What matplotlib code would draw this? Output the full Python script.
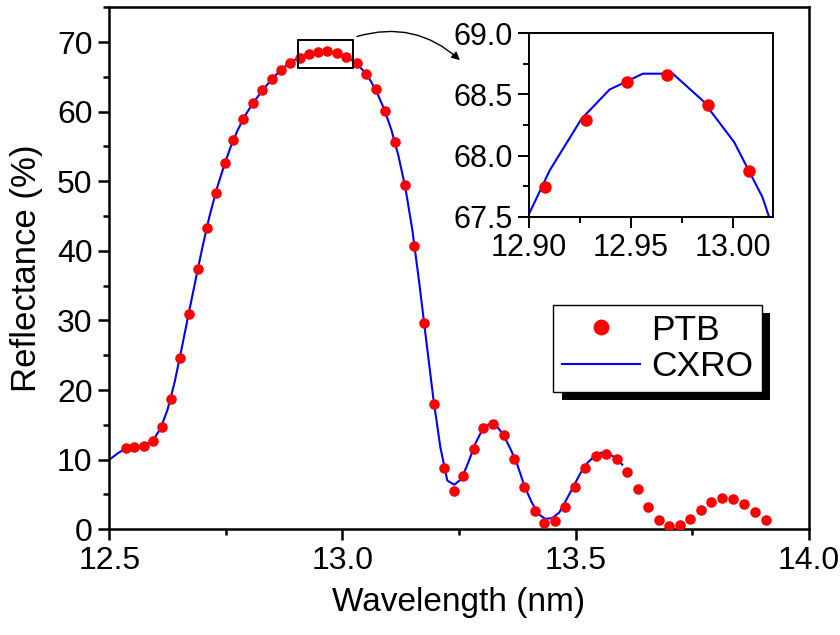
import matplotlib
matplotlib.use("Agg")
import matplotlib.pyplot as plt
import matplotlib.patheffects as pe
from matplotlib.patches import Rectangle
from matplotlib.ticker import MultipleLocator, FormatStrFormatter

plt.rcParams['font.family'] = ['Liberation Sans', 'DejaVu Sans']

# -------------------------------
# PTB measured reflectance
# -------------------------------
ptb_wl = [12.535, 12.554, 12.574, 12.593, 12.612, 12.632, 12.651, 12.670, 12.690, 12.709,
          12.728, 12.748, 12.766, 12.787, 12.808, 12.828, 12.848, 12.868, 12.888, 12.908,
          12.928, 12.948, 12.968, 12.988, 13.008, 13.031, 13.051, 13.071, 13.092, 13.113,
          13.134, 13.154, 13.175, 13.196, 13.217, 13.239, 13.259, 13.282, 13.302, 13.324,
          13.346, 13.368, 13.390, 13.412, 13.433, 13.455, 13.477, 13.499, 13.521, 13.543,
          13.565, 13.588, 13.610, 13.633, 13.655, 13.678, 13.700, 13.723, 13.746, 13.769,
          13.791, 13.814, 13.838, 13.861, 13.884, 13.908]
ptb_r = [11.74, 11.88, 12.03, 12.75, 14.76, 18.79, 24.6, 30.98, 37.45, 43.35,
         48.34, 52.6, 56.0, 58.9, 61.2, 63.07, 64.65, 65.94, 67.05, 67.74,
         68.29, 68.60, 68.66, 68.41, 67.87, 67.05, 65.47, 63.2, 60.04, 55.58,
         49.4, 40.66, 29.64, 17.98, 8.78, 5.55, 7.67, 11.6, 14.58, 15.15,
         13.57, 10.16, 6.13, 2.68, 0.86, 1.19, 3.26, 6.1, 8.78, 10.5,
         10.88, 10.07, 8.24, 5.8, 3.21, 1.38, 0.52, 0.58, 1.53, 2.8,
         3.88, 4.46, 4.32, 3.64, 2.53, 1.38]

# -------------------------------
# CXRO calculated reflectance
# -------------------------------
cxro_wl = [12.490, 12.505, 12.520, 12.535, 12.550, 12.565, 12.580, 12.595, 12.610, 12.625,
           12.640, 12.655, 12.670, 12.685, 12.700, 12.715, 12.730, 12.745, 12.760, 12.775,
           12.790, 12.805, 12.820, 12.835, 12.850, 12.865, 12.880, 12.895, 12.9101, 12.9257,
           12.9395, 12.9559, 12.9706, 12.9853, 13.0008, 13.0147, 13.030, 13.045, 13.060, 13.075,
           13.090, 13.105, 13.120, 13.135, 13.150, 13.165, 13.180, 13.195, 13.210, 13.225,
           13.240, 13.255, 13.270, 13.285, 13.300, 13.315, 13.330, 13.345, 13.360, 13.375,
           13.390, 13.405, 13.420, 13.435, 13.450, 13.465, 13.480, 13.495, 13.510, 13.525,
           13.540, 13.555, 13.570, 13.585, 13.600]
cxro_r = [9.5, 10.25, 11.0, 11.6, 11.85, 11.95, 12.15, 12.9, 14.5, 17.2,
          21.1, 25.9, 30.9, 35.8, 40.6, 45.0, 48.8, 52.0, 54.9, 57.3,
          59.3, 60.9, 62.3, 63.6, 64.8, 65.8, 66.65, 67.35, 67.88, 68.30,
          68.54, 68.67, 68.67, 68.45, 68.11, 67.66, 66.9, 65.9, 64.5, 62.6,
          60.3, 57.4, 53.7, 49.1, 43.0, 35.3, 27.0, 18.8, 11.8, 7.0,
          6.4, 7.2, 9.6, 12.3, 14.3, 15.1, 14.9, 13.6, 11.6, 9.3,
          6.3, 4.0, 2.2, 1.5, 1.6, 2.4, 4.2, 6.1, 8.0, 9.5,
          10.5, 11.0, 10.9, 10.3, 9.3]


def style_axes(a, lw, size):
    for s in a.spines.values():
        s.set_linewidth(lw)
    a.tick_params(which='both', direction='out', top=False, right=False,
                  width=lw, labelsize=size, pad=4)
    a.tick_params(which='major', length=8)
    a.tick_params(which='minor', length=4.5)


fig = plt.figure(figsize=(8.4, 6.35), dpi=100)
ax = fig.add_axes([0.1301, 0.1665, 0.8326, 0.822])

line, = ax.plot(cxro_wl, cxro_r, color='blue', lw=1.5, zorder=2, label='CXRO')
dots, = ax.plot(ptb_wl, ptb_r, 'o', color='red', ms=7.6, mec='none', zorder=3, label='PTB')

ax.set_xlim(12.5, 14.0)
ax.set_ylim(0, 75)
ax.xaxis.set_major_locator(MultipleLocator(0.5))
ax.xaxis.set_minor_locator(MultipleLocator(0.25))
ax.yaxis.set_major_locator(MultipleLocator(10))
ax.yaxis.set_minor_locator(MultipleLocator(5))
ax.xaxis.set_major_formatter(FormatStrFormatter('%.1f'))
style_axes(ax, 1.8, 23)
ax.set_xlabel('Wavelength (nm)', fontsize=24, labelpad=8)
ax.set_ylabel('Reflectance (%)', fontsize=25, labelpad=10)

# zoom box and arrow
ax.add_patch(Rectangle((12.905, 66.3), 0.117, 3.95, fill=False, ec='black', lw=1.4, zorder=4))
ax.annotate('', xy=(13.252, 67.4), xytext=(13.031, 70.8),
            arrowprops=dict(arrowstyle='-|>', connectionstyle='arc3,rad=-0.28',
                            color='black', lw=1.0, mutation_scale=12, shrinkA=0, shrinkB=0),
            annotation_clip=False)

leg = ax.legend(handles=[dots, line], loc='upper left', bbox_to_anchor=(0.635, 0.43),
                borderaxespad=0, fontsize=25.5, frameon=True, fancybox=False,
                edgecolor='black', framealpha=1, markerscale=1.5,
                handlelength=2.2, handletextpad=0.3, labelspacing=0.1,
                borderpad=0.25)
leg.get_frame().set_linewidth(1.0)
leg.get_frame().set_path_effects([pe.SimplePatchShadow(offset=(6, -6), shadow_rgbFace='black', alpha=1.0),
                                  pe.Normal()])

# -------------------------------
# Inset: top of the peak
# -------------------------------
axin = fig.add_axes([0.630, 0.6587, 0.2905, 0.2888])
axin.plot(cxro_wl, cxro_r, color='blue', lw=1.5, zorder=2)
axin.plot(ptb_wl, ptb_r, 'o', color='red', ms=9, mec='none', zorder=3)
axin.set_xlim(12.90, 13.02)
axin.set_ylim(67.5, 69.0)
axin.xaxis.set_major_locator(MultipleLocator(0.05))
axin.xaxis.set_minor_locator(MultipleLocator(0.025))
axin.yaxis.set_major_locator(MultipleLocator(0.5))
axin.yaxis.set_minor_locator(MultipleLocator(0.25))
axin.xaxis.set_major_formatter(FormatStrFormatter('%.2f'))
axin.yaxis.set_major_formatter(FormatStrFormatter('%.1f'))
style_axes(axin, 1.4, 22)

plt.savefig('out.png', dpi=100)
